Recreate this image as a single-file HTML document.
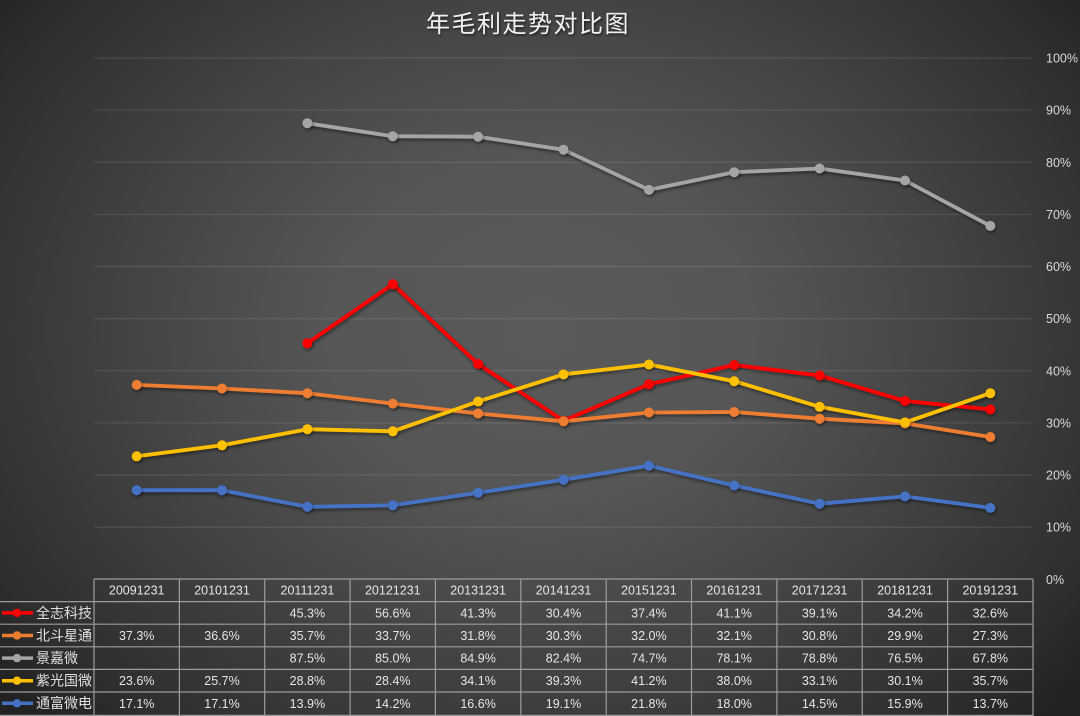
<!DOCTYPE html>
<html><head><meta charset="utf-8"><style>
html,body{margin:0;padding:0;}
body{width:1080px;height:716px;overflow:hidden;background:#2a2a2a;}
.bg{position:absolute;left:0;top:0;width:1080px;height:716px;
background:radial-gradient(700px 560px at 540px 330px,#5a5a5a 0%,#565656 30%,#444 58%,#2e2e2e 88%,#222 100%);}
svg{position:absolute;left:0;top:0;}
text{font-family:"Liberation Sans","Noto Sans CJK SC",sans-serif;}
</style></head><body><div class="bg"></div>
<svg width="1080" height="716" viewBox="0 0 1080 716" xmlns="http://www.w3.org/2000/svg">
<defs><filter id="sh" x="-5%" y="-5%" width="110%" height="110%"><feDropShadow dx="1" dy="2" stdDeviation="1.5" flood-color="#000" flood-opacity="0.45"/></filter>
<filter id="tsh"><feDropShadow dx="1" dy="1.5" stdDeviation="1" flood-color="#000" flood-opacity="0.6"/></filter></defs>
<text x="528" y="32" text-anchor="middle" font-size="24" fill="#f0f0f0" letter-spacing="1.5" filter="url(#tsh)" style="font-family:'Noto Sans CJK SC',sans-serif">年毛利走势对比图</text>
<g stroke="rgba(255,255,255,0.09)" stroke-width="1.4">
<line x1="94" y1="58" x2="1033" y2="58"/><line x1="94" y1="110.1" x2="1033" y2="110.1"/>
<line x1="94" y1="162.3" x2="1033" y2="162.3"/><line x1="94" y1="214.4" x2="1033" y2="214.4"/>
<line x1="94" y1="266.5" x2="1033" y2="266.5"/><line x1="94" y1="318.7" x2="1033" y2="318.7"/>
<line x1="94" y1="370.8" x2="1033" y2="370.8"/><line x1="94" y1="422.9" x2="1033" y2="422.9"/>
<line x1="94" y1="475.1" x2="1033" y2="475.1"/><line x1="94" y1="527.2" x2="1033" y2="527.2"/>
</g>
<g font-size="12.5" fill="#d9d9d9">
<text x="1046" y="62.5">100%</text><text x="1046" y="114.6">90%</text><text x="1046" y="166.8">80%</text>
<text x="1046" y="218.9">70%</text><text x="1046" y="271">60%</text><text x="1046" y="323.2">50%</text>
<text x="1046" y="375.3">40%</text><text x="1046" y="427.4">30%</text><text x="1046" y="479.6">20%</text>
<text x="1046" y="531.7">10%</text><text x="1046" y="583.8">0%</text>
</g>
<g fill="none" stroke-width="3.8" stroke-linejoin="round" filter="url(#sh)">
<polyline stroke="#ff0000" points="307.4,343.2 392.8,284.2 478.1,364.0 563.5,420.8 648.9,384.3 734.2,365.0 819.6,375.5 905.0,401.0 990.3,409.4"/>
<polyline stroke="#ed7d31" points="136.7,384.9 222.0,388.5 307.4,393.2 392.8,403.6 478.1,413.5 563.5,421.3 648.9,412.5 734.2,412.0 819.6,418.7 905.0,423.4 990.3,437.0"/>
<polyline stroke="#a5a5a5" points="307.4,123.2 392.8,136.2 478.1,136.7 563.5,149.7 648.9,189.9 734.2,172.2 819.6,168.5 905.0,180.5 990.3,225.9"/>
<polyline stroke="#ffc000" points="136.7,456.3 222.0,445.3 307.4,429.2 392.8,431.3 478.1,401.5 563.5,374.4 648.9,364.5 734.2,381.2 819.6,406.8 905.0,422.4 990.3,393.2"/>
<polyline stroke="#4472c4" points="136.7,490.2 222.0,490.2 307.4,506.8 392.8,505.3 478.1,492.8 563.5,479.7 648.9,465.7 734.2,485.5 819.6,503.7 905.0,496.4 990.3,507.9"/>
</g>
<g filter="url(#sh)">
<g fill="#ff0000"><circle cx="307.4" cy="343.2" r="5"/><circle cx="392.8" cy="284.2" r="5"/><circle cx="478.1" cy="364.0" r="5"/><circle cx="563.5" cy="420.8" r="5"/><circle cx="648.9" cy="384.3" r="5"/><circle cx="734.2" cy="365.0" r="5"/><circle cx="819.6" cy="375.5" r="5"/><circle cx="905.0" cy="401.0" r="5"/><circle cx="990.3" cy="409.4" r="5"/></g>
<g fill="#ed7d31"><circle cx="136.7" cy="384.9" r="5"/><circle cx="222.0" cy="388.5" r="5"/><circle cx="307.4" cy="393.2" r="5"/><circle cx="392.8" cy="403.6" r="5"/><circle cx="478.1" cy="413.5" r="5"/><circle cx="563.5" cy="421.3" r="5"/><circle cx="648.9" cy="412.5" r="5"/><circle cx="734.2" cy="412.0" r="5"/><circle cx="819.6" cy="418.7" r="5"/><circle cx="905.0" cy="423.4" r="5"/><circle cx="990.3" cy="437.0" r="5"/></g>
<g fill="#a5a5a5"><circle cx="307.4" cy="123.2" r="5"/><circle cx="392.8" cy="136.2" r="5"/><circle cx="478.1" cy="136.7" r="5"/><circle cx="563.5" cy="149.7" r="5"/><circle cx="648.9" cy="189.9" r="5"/><circle cx="734.2" cy="172.2" r="5"/><circle cx="819.6" cy="168.5" r="5"/><circle cx="905.0" cy="180.5" r="5"/><circle cx="990.3" cy="225.9" r="5"/></g>
<g fill="#ffc000"><circle cx="136.7" cy="456.3" r="5"/><circle cx="222.0" cy="445.3" r="5"/><circle cx="307.4" cy="429.2" r="5"/><circle cx="392.8" cy="431.3" r="5"/><circle cx="478.1" cy="401.5" r="5"/><circle cx="563.5" cy="374.4" r="5"/><circle cx="648.9" cy="364.5" r="5"/><circle cx="734.2" cy="381.2" r="5"/><circle cx="819.6" cy="406.8" r="5"/><circle cx="905.0" cy="422.4" r="5"/><circle cx="990.3" cy="393.2" r="5"/></g>
<g fill="#4472c4"><circle cx="136.7" cy="490.2" r="5"/><circle cx="222.0" cy="490.2" r="5"/><circle cx="307.4" cy="506.8" r="5"/><circle cx="392.8" cy="505.3" r="5"/><circle cx="478.1" cy="492.8" r="5"/><circle cx="563.5" cy="479.7" r="5"/><circle cx="648.9" cy="465.7" r="5"/><circle cx="734.2" cy="485.5" r="5"/><circle cx="819.6" cy="503.7" r="5"/><circle cx="905.0" cy="496.4" r="5"/><circle cx="990.3" cy="507.9" r="5"/></g>
</g>
<g stroke="#9c9c9c" stroke-width="1.2">
<line x1="94" y1="579" x2="1033" y2="579"/>
<line x1="0" y1="601.6" x2="1033" y2="601.6"/><line x1="0" y1="624.2" x2="1033" y2="624.2"/>
<line x1="0" y1="646.8" x2="1033" y2="646.8"/><line x1="0" y1="669.4" x2="1033" y2="669.4"/>
<line x1="0" y1="692" x2="1033" y2="692"/><line x1="0" y1="715.4" x2="1033" y2="715.4"/>
<line x1="94" y1="579" x2="94" y2="716"/><line x1="179.4" y1="579" x2="179.4" y2="716"/>
<line x1="264.7" y1="579" x2="264.7" y2="716"/><line x1="350.1" y1="579" x2="350.1" y2="716"/>
<line x1="435.4" y1="579" x2="435.4" y2="716"/><line x1="520.8" y1="579" x2="520.8" y2="716"/>
<line x1="606.2" y1="579" x2="606.2" y2="716"/><line x1="691.5" y1="579" x2="691.5" y2="716"/>
<line x1="776.9" y1="579" x2="776.9" y2="716"/><line x1="862.2" y1="579" x2="862.2" y2="716"/>
<line x1="947.6" y1="579" x2="947.6" y2="716"/><line x1="1033" y1="579" x2="1033" y2="716"/>
</g>
<g stroke-width="3.5">
<line x1="2" y1="612.9" x2="33" y2="612.9" stroke="#ff0000"/><circle cx="17" cy="612.9" r="4.2" fill="#ff0000"/>
<line x1="2" y1="635.5" x2="33" y2="635.5" stroke="#ed7d31"/><circle cx="17" cy="635.5" r="4.2" fill="#ed7d31"/>
<line x1="2" y1="658.1" x2="33" y2="658.1" stroke="#a5a5a5"/><circle cx="17" cy="658.1" r="4.2" fill="#a5a5a5"/>
<line x1="2" y1="680.7" x2="33" y2="680.7" stroke="#ffc000"/><circle cx="17" cy="680.7" r="4.2" fill="#ffc000"/>
<line x1="2" y1="703.3" x2="33" y2="703.3" stroke="#4472c4"/><circle cx="17" cy="703.3" r="4.2" fill="#4472c4"/>
</g>
<g font-size="14" fill="#e0e0e0" style="font-family:'Noto Sans CJK SC',sans-serif">
<text x="36" y="617.8">全志科技</text><text x="36" y="640.4">北斗星通</text><text x="36" y="663">景嘉微</text>
<text x="36" y="685.6">紫光国微</text><text x="36" y="708.2">通富微电</text>
</g>
<g font-size="12.5" fill="#e6e6e6" text-anchor="middle">
<text x="136.7" y="594.5">20091231</text><text x="222.0" y="594.5">20101231</text><text x="307.4" y="594.5">20111231</text><text x="392.8" y="594.5">20121231</text><text x="478.1" y="594.5">20131231</text><text x="563.5" y="594.5">20141231</text><text x="648.9" y="594.5">20151231</text><text x="734.2" y="594.5">20161231</text><text x="819.6" y="594.5">20171231</text><text x="905.0" y="594.5">20181231</text><text x="990.3" y="594.5">20191231</text>
<text x="307.4" y="617.4">45.3%</text><text x="392.8" y="617.4">56.6%</text><text x="478.1" y="617.4">41.3%</text><text x="563.5" y="617.4">30.4%</text><text x="648.9" y="617.4">37.4%</text><text x="734.2" y="617.4">41.1%</text><text x="819.6" y="617.4">39.1%</text><text x="905.0" y="617.4">34.2%</text><text x="990.3" y="617.4">32.6%</text>
<text x="136.7" y="640">37.3%</text><text x="222.0" y="640">36.6%</text><text x="307.4" y="640">35.7%</text><text x="392.8" y="640">33.7%</text><text x="478.1" y="640">31.8%</text><text x="563.5" y="640">30.3%</text><text x="648.9" y="640">32.0%</text><text x="734.2" y="640">32.1%</text><text x="819.6" y="640">30.8%</text><text x="905.0" y="640">29.9%</text><text x="990.3" y="640">27.3%</text>
<text x="307.4" y="662.6">87.5%</text><text x="392.8" y="662.6">85.0%</text><text x="478.1" y="662.6">84.9%</text><text x="563.5" y="662.6">82.4%</text><text x="648.9" y="662.6">74.7%</text><text x="734.2" y="662.6">78.1%</text><text x="819.6" y="662.6">78.8%</text><text x="905.0" y="662.6">76.5%</text><text x="990.3" y="662.6">67.8%</text>
<text x="136.7" y="685.2">23.6%</text><text x="222.0" y="685.2">25.7%</text><text x="307.4" y="685.2">28.8%</text><text x="392.8" y="685.2">28.4%</text><text x="478.1" y="685.2">34.1%</text><text x="563.5" y="685.2">39.3%</text><text x="648.9" y="685.2">41.2%</text><text x="734.2" y="685.2">38.0%</text><text x="819.6" y="685.2">33.1%</text><text x="905.0" y="685.2">30.1%</text><text x="990.3" y="685.2">35.7%</text>
<text x="136.7" y="707.8">17.1%</text><text x="222.0" y="707.8">17.1%</text><text x="307.4" y="707.8">13.9%</text><text x="392.8" y="707.8">14.2%</text><text x="478.1" y="707.8">16.6%</text><text x="563.5" y="707.8">19.1%</text><text x="648.9" y="707.8">21.8%</text><text x="734.2" y="707.8">18.0%</text><text x="819.6" y="707.8">14.5%</text><text x="905.0" y="707.8">15.9%</text><text x="990.3" y="707.8">13.7%</text>
</g>
</svg></body></html>
